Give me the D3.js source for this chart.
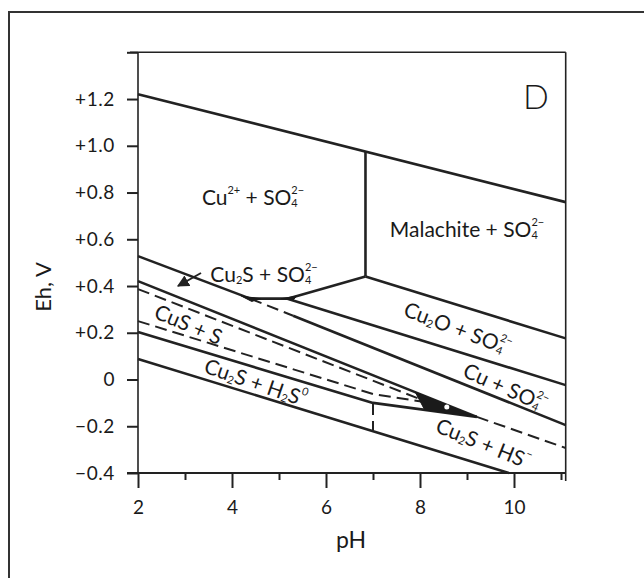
<!DOCTYPE html>
<html>
<head>
<meta charset="utf-8">
<script src="https://cdn.jsdelivr.net/npm/d3@7"></script>
<style>
  body { margin: 0; background: #fff; }
  text { font-family: Lato, "Open Sans", sans-serif; fill: #1a1a1a; }
</style>
</head>
<body>
<div id="chart-container"></div>
<script>
// tick values
const phMajor = [2, 4, 6, 8, 10];
const phMinor = [3, 5, 7, 9, 11];
const ehTicks = [1.4, 1.2, 1.0, 0.8, 0.6, 0.4, 0.2, 0, -0.2, -0.4];
const ehTickLabels = ["", "+1.2", "+1.0", "+0.8", "+0.6", "+0.4", "+0.2", "0", "\u22120.2", "\u22120.4"];

// stability field boundaries, [pH, Eh]
const waterUpper = [[2, 1.221], [11.1, 0.759]];
const cuMalachite = [[6.84, 0.976], [6.84, 0.441]];
const malachiteCu2O = [[6.84, 0.441], [11.1, 0.176]];
const cu2plusCu2O = [[6.84, 0.441], [5.18, 0.346], [4.39, 0.346]];
const cu2plusCu2S = [[2, 0.528], [4.39, 0.346]];
const cu2oCu = [[5.18, 0.346], [11.1, -0.024]];
const cuCu2SMeta = [[4.39, 0.346], [5.3, 0.273]];
const cuCu2S = [[5.3, 0.273], [11.1, -0.195]];
const cu2sCuS = [[2, 0.421], [9.21, -0.160]];
const sulfurUpper = [[2, 0.387], [8.21, -0.100]];
const sulfurLower = [[2, 0.250], [7, -0.062], [8.21, -0.100]];
const cu2sH2S = [[2, 0.203], [7, -0.100], [9.21, -0.160]];
const waterLower = [[2, 0.088], [9.89, -0.4]];
const h2sHs = [[7, -0.100], [7, -0.216]];
const hsTail = [[9.21, -0.160], [11.1, -0.293]];
const wedge = [[7.9, -0.054], [9.21, -0.16], [8.1, -0.130]];
const junctionWedges = [
  [[4.2, 0.357], [4.6, 0.346], [4.42, 0.334]],
  [[5.05, 0.346], [5.38, 0.357], [5.3, 0.340]]
];
const whiteDot = [8.57, -0.118];

const width = 644, height = 578;
const svg = d3.select("#chart-container")
  .append("svg")
  .attr("width", width)
  .attr("height", height);

const x = d3.scaleLinear().domain([2, 11.1]).range([138, 565.7]);
const y = d3.scaleLinear().domain([-0.4, 1.4]).range([473, 52.3]);

// outer frame of the figure
svg.append("path")
  .attr("d", "M650,12 L9,12 L9,590")
  .attr("fill", "none")
  .attr("stroke", "#333")
  .attr("stroke-width", 2);

// plot frame
const frame = svg.append("g").attr("stroke", "#222").attr("fill", "none");
frame.append("line").attr("x1", x(2)).attr("x2", x(2)).attr("y1", y(1.4)).attr("y2", y(-0.4)).attr("stroke-width", 1.6);
frame.append("line").attr("x1", x(11.1)).attr("x2", x(11.1)).attr("y1", y(1.4)).attr("y2", y(-0.4) + 8).attr("stroke-width", 1.6);
frame.append("line").attr("x1", x(2) - 8).attr("x2", x(11.1)).attr("y1", y(1.4)).attr("y2", y(1.4)).attr("stroke-width", 1.6);
frame.append("line").attr("x1", x(2) - 11).attr("x2", x(11.1)).attr("y1", y(-0.4)).attr("y2", y(-0.4)).attr("stroke-width", 2.2);

// y axis
const yAxis = svg.append("g")
  .attr("transform", `translate(${x(2)},0)`)
  .call(d3.axisLeft(y).tickValues(ehTicks).tickSize(11).tickPadding(12)
    .tickFormat((d, i) => ehTickLabels[i]));
yAxis.select(".domain").remove();
yAxis.selectAll(".tick line").attr("stroke", "#222").attr("stroke-width", 2);
yAxis.selectAll(".tick text").attr("font-size", 19).attr("fill", "#1a1a1a")
  .attr("letter-spacing", 0.6)
  .attr("font-family", "Lato, 'Open Sans', sans-serif");

// x axis
const xAxis = svg.append("g")
  .attr("transform", `translate(0,${y(-0.4)})`)
  .call(d3.axisBottom(x).tickValues(phMajor).tickSize(15).tickPadding(13)
    .tickFormat(d3.format("d")));
xAxis.select(".domain").remove();
xAxis.selectAll(".tick line").attr("stroke", "#222").attr("stroke-width", 2);
xAxis.selectAll(".tick text").attr("font-size", 19).attr("fill", "#1a1a1a")
  .attr("font-family", "Lato, 'Open Sans', sans-serif");
svg.append("g")
  .attr("transform", `translate(0,${y(-0.4)})`)
  .call(d3.axisBottom(x).tickValues(phMinor).tickSize(7).tickFormat(""))
  .call(g => g.select(".domain").remove())
  .selectAll(".tick line").attr("stroke", "#222").attr("stroke-width", 2);

// axis titles
svg.append("text")
  .attr("x", 351).attr("y", 548)
  .attr("text-anchor", "middle")
  .attr("font-size", 23)
  .text("pH");
svg.append("text")
  .attr("transform", "translate(51,287) rotate(-90)")
  .attr("text-anchor", "middle")
  .attr("font-size", 22)
  .text("Eh, V");

// boundaries
const line = d3.line().x(d => x(d[0])).y(d => y(d[1]));
const solid = [waterUpper, cuMalachite, malachiteCu2O, cu2plusCu2O, cu2plusCu2S,
  cu2oCu, cuCu2S, cu2sCuS, cu2sH2S, waterLower];
const dashed = [cuCu2SMeta, sulfurUpper, sulfurLower, h2sHs, hsTail];

svg.append("g").selectAll("path")
  .data(solid)
  .enter().append("path")
  .attr("d", line)
  .attr("fill", "none")
  .attr("stroke", "#222")
  .attr("stroke-width", 2.6)
  .attr("stroke-linejoin", "round");

svg.append("g").selectAll("path")
  .data(dashed)
  .enter().append("path")
  .attr("d", line)
  .attr("fill", "none")
  .attr("stroke", "#222")
  .attr("stroke-width", 2)
  .attr("stroke-dasharray", "12,6");

svg.append("g").selectAll("path")
  .data([wedge].concat(junctionWedges))
  .enter().append("path")
  .attr("d", d => line(d) + "Z")
  .attr("fill", "#1a1a1a")
  .attr("stroke", "#1a1a1a")
  .attr("stroke-width", 1);

svg.append("circle")
  .attr("cx", x(whiteDot[0])).attr("cy", y(whiteDot[1]))
  .attr("r", 2.5).attr("fill", "#fff");

// field labels: segments of [text, kind]
const SO4 = [[" + SO", ""], ["4", "stack"]];
const labels = [
  { pos: [253, 196], rot: 0, parts: [["Cu", ""], ["2+", "sup"]].concat(SO4) },
  { pos: [467, 228], rot: 0, parts: [["Malachite", ""]].concat(SO4) },
  { pos: [264, 273], rot: 0, parts: [["Cu", ""], ["2", "sub"], ["S", ""]].concat(SO4) },
  { pos: [189, 323], rot: 23, parts: [["CuS + S", ""]] },
  { pos: [256, 381], rot: 19, parts: [["Cu", ""], ["2", "sub"], ["S + H", ""], ["2", "sub"], ["S", ""], ["0", "sup"]] },
  { pos: [458, 327], rot: 21, parts: [["Cu", ""], ["2", "sub"], ["O", ""]].concat(SO4) },
  { pos: [506, 386], rot: 24, parts: [["Cu", ""]].concat(SO4) },
  { pos: [484, 442], rot: 22, parts: [["Cu", ""], ["2", "sub"], ["S + HS", ""], ["\u2212", "sup"]] }
];

labels.forEach(lab => {
  const t = svg.append("text")
    .attr("text-anchor", "middle")
    .attr("dominant-baseline", "central")
    .attr("font-size", 21)
    .attr("transform", `translate(${lab.pos[0]},${lab.pos[1]}) rotate(${lab.rot})`);
  let shift = 0;
  lab.parts.forEach(p => {
    const [str, kind] = p;
    if (kind === "") {
      t.append("tspan").attr("dy", -shift).text(str);
      shift = 0;
    } else if (kind === "sup") {
      t.append("tspan").attr("dy", -7 - shift).attr("font-size", 11).text(str);
      shift = -7;
    } else if (kind === "sub") {
      t.append("tspan").attr("dy", 6 - shift).attr("font-size", 11).text(str);
      shift = 6;
    } else if (kind === "stack") {
      const sub = t.append("tspan").attr("dy", 6 - shift).attr("font-size", 11).text(str);
      const w = sub.node().getComputedTextLength();
      t.append("tspan").attr("dx", -w).attr("dy", -13).attr("font-size", 11).text("2\u2212");
      shift = -7;
    }
  });
  if (shift !== 0) t.append("tspan").attr("dy", -shift).text("");
});

// arrow pointing into the Cu2S + SO4 field
svg.append("defs").append("marker")
  .attr("id", "arrow")
  .attr("viewBox", "0 0 10 10")
  .attr("refX", 9).attr("refY", 5)
  .attr("markerWidth", 6).attr("markerHeight", 6)
  .attr("orient", "auto")
  .append("path").attr("d", "M0,0 L10,5 L0,10 Z").attr("fill", "#222");
svg.append("line")
  .attr("x1", 201).attr("y1", 273)
  .attr("x2", 178).attr("y2", 286)
  .attr("stroke", "#222").attr("stroke-width", 2)
  .attr("marker-end", "url(#arrow)");

// panel letter
svg.append("text")
  .attr("x", 536).attr("y", 95)
  .attr("text-anchor", "middle")
  .attr("dominant-baseline", "central")
  .attr("font-size", 34)
  .attr("font-weight", 300)
  .text("D");
</script>
</body>
</html>
